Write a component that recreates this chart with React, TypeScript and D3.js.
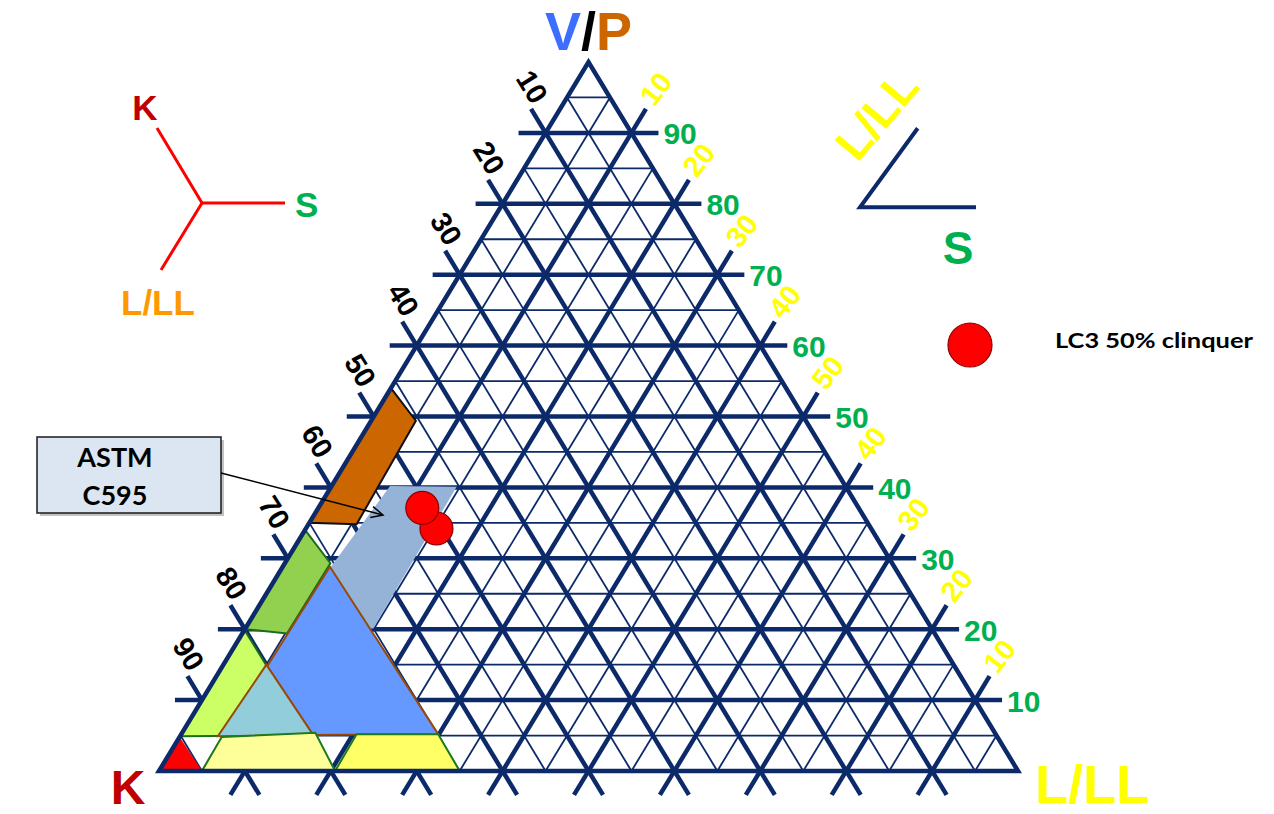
import React from 'react'
import * as d3 from 'd3'

// ternary coordinates are [a, l]: a = V/P (apex), l = L/LL (right corner), K = 1 - a - l
const majorSteps = [0.1, 0.2, 0.3, 0.4, 0.5, 0.6, 0.7, 0.8, 0.9]
const minorSteps = [0.05, 0.15, 0.25, 0.35, 0.45, 0.55, 0.65, 0.75, 0.85, 0.95]

const kTickLabels = ['10', '20', '30', '40', '50', '60', '70', '80', '90']
const vTickLabels = ['10', '20', '30', '40', '50', '60', '70', '80', '90']
const lTickLabels = ['10', '20', '30', '40', '50', '40', '30', '20', '10']

const regionGreyBlue = [[0.402, 0.068], [0.401, 0.146], [0.201, 0.149], [0.2, 0.047]]
const regionOrange = [[0.54, 0], [0.494, 0.052], [0.348, 0.056], [0.35, 0]]
const regionGreen = [[0.34, 0], [0.293, 0.053], [0.194, 0.052], [0.2, 0]]
const regionLime = [[0.049, 0], [0.199, 0], [0.05, 0.15]]
const regionBlue = [[0.288, 0.055], [0.05, 0.05], [0.052, 0.299]]
const regionLightBlue = [[0.15, 0.05], [0.049, 0.044], [0.051, 0.154]]
const regionPaleYellow = [[0, 0.05], [0.048, 0.049], [0.054, 0.155], [0, 0.205]]
const regionYellow = [[0, 0.205], [0.052, 0.204], [0.052, 0.299], [0, 0.35]]
const regionRed = [[0, 0], [0.048, 0], [0, 0.05]]

const lc3Points = [[0.342, 0.152], [0.371, 0.121]]

const NAVY = '#0c2a69'

export default function App() {
  const width = 1274
  const height = 814

  const xScale = d3.scaleLinear().domain([0, 1]).range([159, 1018])
  const yScale = d3.scaleLinear().domain([0, 1]).range([771, 62])
  const pt = (a: number, l: number): [number, number] => [xScale(l + a / 2), yScale(a)]

  const ext = (p: [number, number], q: [number, number], len: number) => {
    // extend segment p->q by len on both ends
    const dx = q[0] - p[0], dy = q[1] - p[1]
    const d = Math.hypot(dx, dy)
    const ux = dx / d, uy = dy / d
    return [[p[0] - ux * len, p[1] - uy * len], [q[0] + ux * len, q[1] + uy * len]] as [number, number][]
  }

  const line = d3.line()
  const poly = (pts: number[][]) => line(pts.map(([a, l]) => pt(a, l))) + 'Z'

  const TICK = 28

  const minorLines: [number, number][][] = []
  minorSteps.forEach(v => {
    minorLines.push([pt(v, 0), pt(v, 1 - v)])
    minorLines.push([pt(0, v), pt(1 - v, v)])
    minorLines.push([pt(1 - v, 0), pt(0, 1 - v)])
  })

  const horiz = majorSteps.map(v => {
    const p = pt(v, 0), q = pt(v, 1 - v)
    return [[p[0] - 27, p[1]], [q[0] + 27, q[1]]] as [number, number][]
  })
  const constL = majorSteps.map(v => ext(pt(0, v), pt(1 - v, v), TICK))
  const constK = majorSteps.map(v => ext(pt(0, 1 - v), pt(1 - v, 0), TICK))

  const regions = [
    { pts: regionGreyBlue, fill: '#95b3d7', stroke: 'none' },
    { pts: regionOrange, fill: '#cc6600', stroke: '#111' },
    { pts: regionGreen, fill: '#92d050', stroke: '#1d6b1d' },
    { pts: regionLime, fill: '#ccff66', stroke: '#1d6b1d' },
    { pts: regionBlue, fill: '#6699ff', stroke: '#984807' },
    { pts: regionLightBlue, fill: '#92cddc', stroke: '#984807' },
    { pts: regionPaleYellow, fill: '#ffff99', stroke: '#1d7a1d' },
    { pts: regionYellow, fill: '#ffff66', stroke: '#1d7a1d' },
    { pts: regionRed, fill: '#ff0000', stroke: 'none' },
  ]

  const arial = '"Liberation Sans", Arial, sans-serif'
  const calibri = 'Lato, "Open Sans", sans-serif'

  const legendCenter: [number, number] = [202, 203]
  const arrowFrom: [number, number] = [221, 473]
  const arrowTo: [number, number] = [383, 515]
  const arrowAngle = Math.atan2(arrowTo[1] - arrowFrom[1], arrowTo[0] - arrowFrom[0])
  const head = (da: number): [number, number] => [
    arrowTo[0] - 13 * Math.cos(arrowAngle + da),
    arrowTo[1] - 13 * Math.sin(arrowAngle + da),
  ]

  return <svg width={width} height={height} style={{ position: 'absolute', left: 0, top: 0, background: 'white' }}>
    {/* minor grid */}
    <g stroke={NAVY} strokeWidth={1.8}>
      {minorLines.map((s, i) => <path key={i} d={line(s) as string} />)}
    </g>
    {/* major grid with ticks */}
    <g stroke={NAVY} strokeWidth={4.5}>
      {horiz.map((s, i) => <path key={'h' + i} d={line(s) as string} />)}
      {constL.map((s, i) => <path key={'l' + i} d={line(s) as string} />)}
      {constK.map((s, i) => <path key={'k' + i} d={line(s) as string} />)}
    </g>

    {regions.map((r, i) => <path key={i} d={poly(r.pts)} fill={r.fill} stroke={r.stroke} strokeWidth={2} />)}

    <path d={poly([[0, 0], [1, 0], [0, 1]])} fill="none" stroke={NAVY} strokeWidth={4.5} />

    {lc3Points.map(([a, l], i) => {
      const [cx, cy] = pt(a, l)
      return <circle key={i} cx={cx} cy={cy} r={16.5} fill="#ff0000" stroke="#8b0000" strokeWidth={1.2} />
    })}

    {/* tick labels */}
    <g fontFamily={arial} fontWeight="bold">
      {constK.map((s, i) => <text key={'kt' + i} transform={`translate(${s[1][0] + 1},${s[1][1] - 22}) rotate(58)`}
        textAnchor="middle" dominantBaseline="central" fontSize={29} fill="#000">{kTickLabels[i]}</text>)}
      {constL.map((s, i) => <text key={'lt' + i} transform={`translate(${s[1][0] + 10},${s[1][1] - 20}) rotate(-52)`}
        textAnchor="middle" dominantBaseline="central" fontSize={29} fill="#ffff00">{lTickLabels[i]}</text>)}
      {horiz.map((s, i) => <text key={'vt' + i} x={s[1][0] + 5} y={s[1][1] + 1}
        dominantBaseline="central" fontSize={30} fill="#00b050">{vTickLabels[i]}</text>)}
    </g>

    {/* corner titles */}
    <text x={545} y={50} fontFamily={arial} fontWeight="bold" fontSize={54}>
      <tspan fill="#3d6fff">V</tspan><tspan fill="#000">/</tspan><tspan fill="#cc6600">P</tspan>
    </text>
    <text x={128} y={804} textAnchor="middle" fontFamily={arial} fontWeight="bold" fontSize={48} fill="#c00000">K</text>
    <text x={1035} y={803} fontFamily={arial} fontWeight="bold" fontSize={54} fill="#ffff00">L/LL</text>

    {/* left legend */}
    <g stroke="#ff0000" strokeWidth={3}>
      <line x1={legendCenter[0]} y1={legendCenter[1]} x2={157} y2={128} />
      <line x1={legendCenter[0]} y1={legendCenter[1]} x2={285} y2={legendCenter[1]} />
      <line x1={legendCenter[0]} y1={legendCenter[1]} x2={161} y2={270} />
    </g>
    <text x={145} y={120} textAnchor="middle" fontFamily={arial} fontWeight="bold" fontSize={35} fill="#c00000">K</text>
    <text x={295} y={217} fontFamily={arial} fontWeight="bold" fontSize={35} fill="#00b050">S</text>
    <text x={121} y={315} fontFamily={arial} fontWeight="bold" fontSize={35} fill="#ff9900">L/LL</text>

    {/* right legend */}
    <g stroke={NAVY} strokeWidth={4} fill="none">
      <path d="M917.7,128.3 L860,207.3 L976,207.3" />
    </g>
    <text transform="translate(877,115) rotate(-50)" textAnchor="middle" dominantBaseline="central"
      fontFamily={arial} fontWeight="bold" fontSize={47} fill="#ffff00">L/LL</text>
    <text x={958} y={264} textAnchor="middle" fontFamily={arial} fontWeight="bold" fontSize={46} fill="#00b050">S</text>

    <circle cx={970} cy={345} r={22} fill="#ff0000" stroke="#8b0000" strokeWidth={1.2} />
    <text x={1055} y={340} fontFamily={calibri} fontWeight="bold" fontSize={20} dominantBaseline="central"
      textLength={198} lengthAdjust="spacingAndGlyphs" fill="#000">LC3 50% clinquer</text>

    {/* ASTM callout */}
    <rect x={40} y={440} width={184} height={76} fill="#9a9a9a" opacity={0.6} />
    <rect x={37} y={437} width={184} height={76} fill="#dce6f2" stroke="#1a1a1a" strokeWidth={1.5} />
    <text x={115} y={467} textAnchor="middle" fontFamily={calibri} fontWeight="bold" fontSize={27} fill="#000">ASTM</text>
    <text x={115} y={505} textAnchor="middle" fontFamily={calibri} fontWeight="bold" fontSize={27} fill="#000">C595</text>
    <g stroke="#000" strokeWidth={1.5} fill="none">
      <line x1={arrowFrom[0]} y1={arrowFrom[1]} x2={arrowTo[0]} y2={arrowTo[1]} />
      <path d={`M${head(0.45).join(',')} L${arrowTo.join(',')} L${head(-0.45).join(',')}`} />
    </g>
  </svg>
}
